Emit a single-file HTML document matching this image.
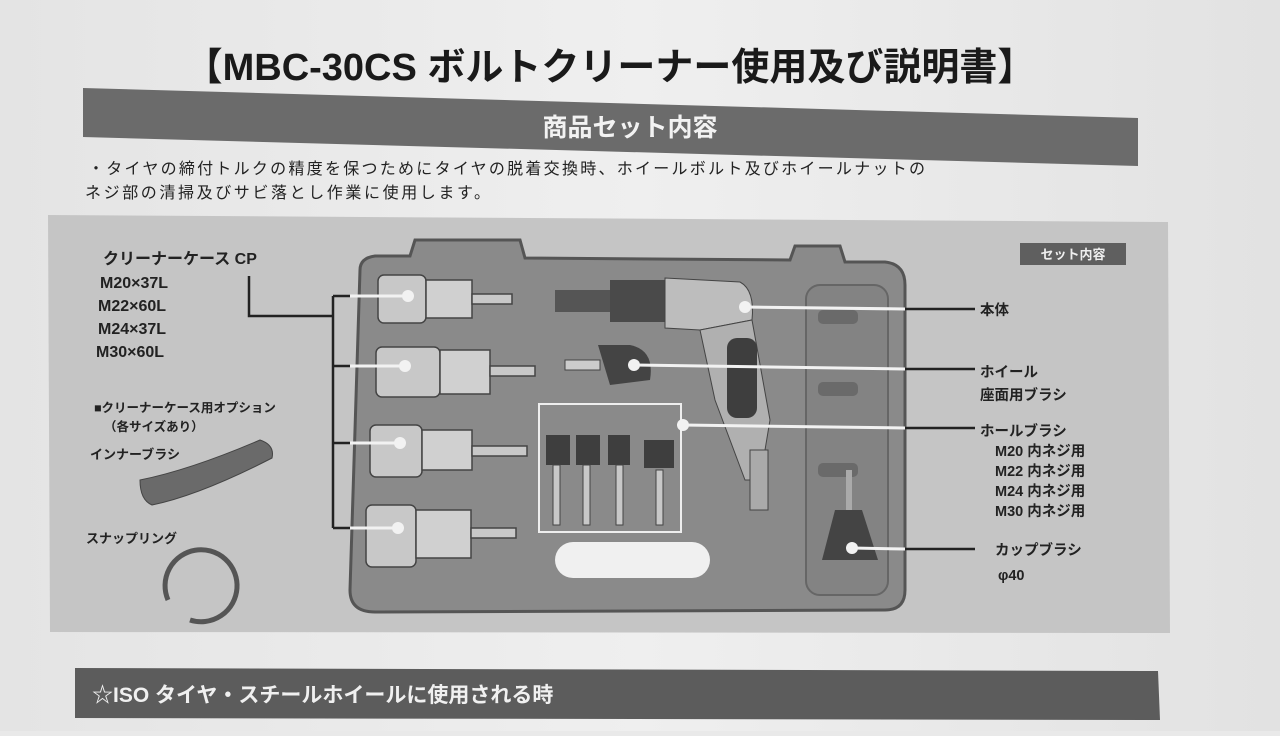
<!DOCTYPE html>
<html><head><meta charset="utf-8"><style>
html,body{margin:0;padding:0;}
body{width:1280px;height:731px;overflow:hidden;background:#e9e9e9;font-family:"Liberation Sans","Noto Sans CJK JP",sans-serif;}
svg text{font-family:"Liberation Sans","Noto Sans CJK JP",sans-serif;}
</style></head><body>
<svg width="1280" height="731" viewBox="0 0 1280 731" xmlns="http://www.w3.org/2000/svg">
<defs>
<linearGradient id="bg" x1="0" x2="1" y1="0" y2="0"><stop offset="0" stop-color="#e4e4e4"/><stop offset="0.5" stop-color="#efefef"/><stop offset="1" stop-color="#e2e2e2"/></linearGradient>
</defs>
<rect width="1280" height="731" fill="url(#bg)"/>
<text x="610" y="80" text-anchor="middle" font-size="38" font-weight="bold" fill="#1a1a1a">【MBC-30CS ボルトクリーナー使用及び説明書】</text>
<polygon points="83,88 1138,118 1138,166 83,137" fill="#6b6b6b"/>
<text x="630" y="136" text-anchor="middle" font-size="25" font-weight="bold" fill="#f2f2f2">商品セット内容</text>
<text x="88" y="174" font-size="16" fill="#222" textLength="837">・タイヤの締付トルクの精度を保つためにタイヤの脱着交換時、ホイールボルト及びホイールナットの</text>
<text x="85" y="198" font-size="16" fill="#222" textLength="405">ネジ部の清掃及びサビ落とし作業に使用します。</text>
<polygon points="48,215 1168,222 1170,633 50,632" fill="#c5c5c5"/>
<rect x="1020" y="243" width="106" height="22" fill="#5f5f5f"/>
<text x="1073" y="259" text-anchor="middle" font-size="13" font-weight="bold" fill="#eee">セット内容</text>
<path d="M360,270 Q360,258 375,256 L410,256 L415,240 L520,240 L525,258 L790,260 L795,246 L840,246 L845,262 L885,262 Q905,264 905,285 L905,590 Q905,610 885,610 L375,612 Q350,612 350,590 Z" fill="#8a8a8a" stroke="#555" stroke-width="3"/>
<rect x="806" y="285" width="82" height="310" rx="14" fill="#838383" stroke="#666" stroke-width="2"/>
<rect x="818" y="310" width="40" height="14" rx="5" fill="#6a6a6a"/>
<rect x="818" y="382" width="40" height="14" rx="5" fill="#6a6a6a"/>
<rect x="818" y="463" width="40" height="14" rx="5" fill="#6a6a6a"/>
<g fill="#c8c8c8" stroke="#444" stroke-width="1.5">
<rect x="378" y="275" width="48" height="48" rx="6"/><rect x="426" y="280" width="46" height="38" fill="#d0d0d0"/><rect x="472" y="294" width="40" height="10"/>
<rect x="376" y="347" width="64" height="50" rx="6"/><rect x="440" y="350" width="50" height="44" fill="#d0d0d0"/><rect x="490" y="366" width="45" height="10"/>
<rect x="370" y="425" width="52" height="52" rx="6"/><rect x="422" y="430" width="50" height="40" fill="#d0d0d0"/><rect x="472" y="446" width="55" height="10"/>
<rect x="366" y="505" width="50" height="62" rx="6"/><rect x="416" y="510" width="55" height="48" fill="#d0d0d0"/><rect x="471" y="528" width="45" height="10"/>
</g>
<rect x="555" y="290" width="60" height="22" fill="#555"/>
<rect x="610" y="280" width="55" height="42" fill="#4a4a4a"/>
<path d="M665,278 L740,282 Q755,290 752,320 L700,330 L665,328 Z" fill="#bdbdbd" stroke="#444"/>
<path d="M700,330 L752,320 L770,420 L760,480 L745,480 L715,400 Z" fill="#b0b0b0" stroke="#444"/>
<rect x="727" y="338" width="30" height="80" rx="10" fill="#3e3e3e"/>
<rect x="750" y="450" width="18" height="60" fill="#aaa" stroke="#444"/>
<path d="M598,345 L630,345 Q655,350 650,380 L610,385 Z" fill="#444"/>
<rect x="565" y="360" width="35" height="10" fill="#ccc" stroke="#444"/>
<rect x="539" y="404" width="142" height="128" fill="none" stroke="#eee" stroke-width="2"/>
<g fill="#3e3e3e"><rect x="546" y="435" width="24" height="30"/><rect x="576" y="435" width="24" height="30"/><rect x="608" y="435" width="22" height="30"/><rect x="644" y="440" width="30" height="28"/></g>
<g fill="#c8c8c8" stroke="#444"><rect x="553" y="465" width="7" height="60"/><rect x="583" y="465" width="7" height="60"/><rect x="616" y="465" width="7" height="60"/><rect x="656" y="470" width="7" height="55"/></g>
<rect x="555" y="542" width="155" height="36" rx="18" fill="#f0f0f0"/>
<rect x="846" y="470" width="6" height="40" fill="#aaa"/>
<path d="M835,510 L862,510 L878,560 L822,560 Z" fill="#444"/>
<g stroke="#222" stroke-width="2.5" fill="none">
<polyline points="249,276 249,316 333,316"/>
<line x1="333" y1="296" x2="333" y2="528"/>
<line x1="333" y1="296" x2="350" y2="296"/><line x1="333" y1="366" x2="350" y2="366"/><line x1="333" y1="443" x2="350" y2="443"/><line x1="333" y1="528" x2="350" y2="528"/>
<line x1="905" y1="309" x2="975" y2="309"/><line x1="905" y1="369" x2="975" y2="369"/><line x1="905" y1="428" x2="975" y2="428"/><line x1="905" y1="549" x2="975" y2="549"/>
</g>
<g stroke="#f2f2f2" stroke-width="3">
<line x1="350" y1="296" x2="408" y2="296"/><line x1="350" y1="366" x2="405" y2="366"/><line x1="350" y1="443" x2="400" y2="443"/><line x1="350" y1="528" x2="398" y2="528"/>
<line x1="745" y1="307" x2="905" y2="309"/><line x1="634" y1="365" x2="905" y2="369"/><line x1="683" y1="425" x2="905" y2="428"/><line x1="852" y1="548" x2="905" y2="549"/>
</g>
<g fill="#f2f2f2"><circle cx="408" cy="296" r="6"/><circle cx="405" cy="366" r="6"/><circle cx="400" cy="443" r="6"/><circle cx="398" cy="528" r="6"/><circle cx="745" cy="307" r="6"/><circle cx="634" cy="365" r="6"/><circle cx="683" cy="425" r="6"/><circle cx="852" cy="548" r="6"/></g>
<g font-size="16" fill="#222" font-weight="bold">
<text x="103" y="264" font-size="16">クリーナーケース CP</text>
<text x="100" y="288">M20×37L</text><text x="98" y="311">M22×60L</text><text x="98" y="334">M24×37L</text><text x="96" y="357">M30×60L</text>
</g>
<g fill="#222" font-weight="bold">
<text x="94" y="412" font-size="12.5">■クリーナーケース用オプション</text>
<text x="104" y="431" font-size="12.5">（各サイズあり）</text>
<text x="90" y="459" font-size="13">インナーブラシ</text>
<text x="86" y="543" font-size="13">スナップリング</text>
</g>
<path d="M140,480 Q190,470 260,440 Q275,445 272,458 Q200,495 152,505 Q140,500 140,480 Z" fill="#6a6a6a" stroke="#444"/>
<path d="M168,600 A36,36 0 1 1 190,620" fill="none" stroke="#555" stroke-width="5"/>
<g font-size="14.5" fill="#222" font-weight="bold">
<text x="980" y="315">本体</text>
<text x="980" y="377">ホイール</text><text x="980" y="400">座面用ブラシ</text>
<text x="980" y="436">ホールブラシ</text><text x="995" y="456">M20 内ネジ用</text><text x="995" y="476">M22 内ネジ用</text><text x="995" y="496">M24 内ネジ用</text><text x="995" y="516">M30 内ネジ用</text>
<text x="995" y="555">カップブラシ</text><text x="998" y="580">φ40</text>
</g>
<polygon points="75,668 1158,671 1160,720 75,718" fill="#5c5c5c"/>
<text x="92" y="702" font-size="21" font-weight="bold" fill="#f0f0f0">☆ISO タイヤ・スチールホイールに使用される時</text>
</svg>
</body></html>
